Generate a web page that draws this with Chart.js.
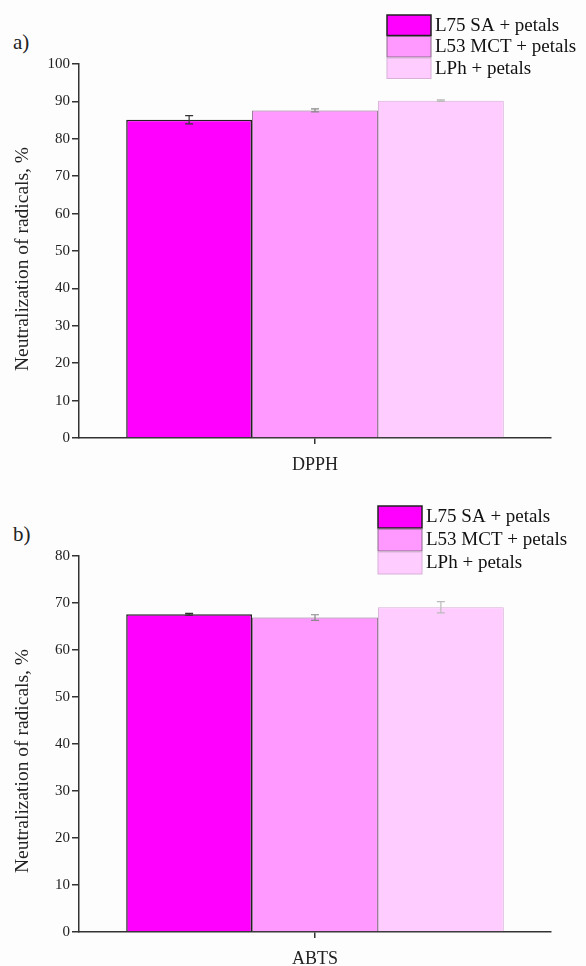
<!DOCTYPE html>
<html>
<head>
<meta charset="utf-8">
<script src="https://cdn.jsdelivr.net/npm/chart.js@4"></script>
<style>
  body { margin: 0; background: #fdfdfd; }
  #wrap { position: relative; width: 586px; height: 966px; }
  canvas { position: absolute; left: 0; }
  .panel { position: absolute; left: 13px; font: 21px "Liberation Serif", serif; color: #222; }
</style>
</head>
<body>
<div id="wrap">
  <div class="panel" style="top:30px">a)</div>
  <canvas id="chartA" width="586" height="490" style="top:0"></canvas>
  <div class="panel" style="top:522px">b)</div>
  <canvas id="chartB" width="586" height="476" style="top:490px"></canvas>
</div>
<script>
// series / samples
const samples = ['L75 SA + petals', 'L53 MCT + petals', 'LPh + petals'];
const fills = ['#ff00ff', '#ff99ff', '#ffccff'];
const edges = ['#222222', '#8a6a8a', '#d8b0d8'];
const errColors = ['#333333', '#888888', '#bbbbbb'];
const yTitle = 'Neutralization of radicals, %';

// a) DPPH
const dpphLabels = ['DPPH'];
const dpphValues = [85.1, 87.6, 90.2];
const dpphErr = [1.1, 0.4, 0.2];

// b) ABTS
const abtsLabels = ['ABTS'];
const abtsValues = [67.6, 66.9, 69.1];
const abtsErr = [0.2, 0.6, 1.2];

const serif = '"Liberation Serif", "Times New Roman", serif';

// draws error bars from data through the y scale
const errorBars = {
    id: 'errorBars',
    afterDatasetsDraw(chart) {
        const errs = chart.options.plugins.errorBars.errs;
        const ctx = chart.ctx;
        const y = chart.scales.y;
        chart.data.datasets.forEach((ds, i) => {
            const meta = chart.getDatasetMeta(i);
            meta.data.forEach((bar, j) => {
                const v = ds.data[j], e = errs[i];
                const top = y.getPixelForValue(v + e);
                const bot = y.getPixelForValue(v - e);
                ctx.save();
                ctx.strokeStyle = errColors[i];
                ctx.lineWidth = 1.2;
                ctx.beginPath();
                ctx.moveTo(bar.x, top); ctx.lineTo(bar.x, bot);
                ctx.moveTo(bar.x - 4, top); ctx.lineTo(bar.x + 4, top);
                ctx.moveTo(bar.x - 4, bot); ctx.lineTo(bar.x + 4, bot);
                ctx.stroke();
                ctx.restore();
            });
        });
    }
};

// simple stacked box legend + rotated y title
const boxLegend = {
    id: 'boxLegend',
    afterDraw(chart) {
        const o = chart.options.plugins.boxLegend;
        const ctx = chart.ctx;
        ctx.save();
        ctx.font = '19px ' + serif;
        ctx.textBaseline = 'middle';
        chart.data.datasets.forEach((ds, i) => {
            const yy = o.y + i * o.h;
            ctx.fillStyle = ds.backgroundColor;
            ctx.fillRect(o.x, yy, o.w, o.h - 1);
            ctx.strokeStyle = ds.borderColor;
            ctx.lineWidth = i === 0 ? 1.5 : 1;
            ctx.strokeRect(o.x, yy, o.w, o.h - 1);
            ctx.fillStyle = '#111';
            ctx.fillText(ds.label, o.x + o.w + 4, yy + o.h / 2);
        });
        // y axis title
        const area = chart.chartArea;
        ctx.translate(23, (area.top + area.bottom) / 2 + o.titleShift);
        ctx.rotate(-Math.PI / 2);
        ctx.font = '19.5px ' + serif;
        ctx.textAlign = 'center';
        ctx.textBaseline = 'middle';
        ctx.fillStyle = '#222';
        ctx.fillText(yTitle, 0, 0);
        ctx.restore();
    }
};

function makeChart(id, labels, values, errs, yMax, cfg) {
    const datasets = samples.map((s, i) => ({
        label: s,
        data: [values[i]],
        backgroundColor: fills[i],
        borderColor: edges[i],
        borderWidth: i === 0 ? 1.5 : 1
    }));
    return new Chart(document.getElementById(id), {
        type: 'bar',
        data: { labels: labels, datasets: datasets },
        options: {
            responsive: false,
            animation: false,
            layout: { padding: { top: cfg.top, right: 35, left: 0, bottom: 0 } },
            datasets: { bar: { barPercentage: 1, categoryPercentage: 0.8 } },
            plugins: {
                legend: { display: false },
                tooltip: { enabled: false },
                errorBars: { errs: errs },
                boxLegend: cfg.legend
            },
            scales: {
                x: {
                    afterFit: (s) => { s.height = cfg.xh; },
                    grid: { offset: false, drawOnChartArea: false, tickLength: 6, color: '#333', lineWidth: 1.5 },
                    border: { color: '#333', width: 1.5 },
                    ticks: { color: '#222', padding: 10, font: { family: serif, size: 18 } }
                },
                y: {
                    min: 0, max: yMax,
                    afterFit: (s) => { s.width = 79; },
                    grid: { drawOnChartArea: false, tickLength: 7, color: '#333', lineWidth: 1.5 },
                    border: { color: '#333', width: 1.5 },
                    ticks: { stepSize: 10, color: '#222', padding: 2, font: { family: serif, size: 15 } }
                }
            }
        },
        plugins: [errorBars, boxLegend]
    });
}

makeChart('chartA', dpphLabels, dpphValues, dpphErr, 100,
    { top: 64, xh: 52, legend: { x: 387, y: 15, w: 44, h: 21.5, titleShift: 8 } });
makeChart('chartB', abtsLabels, abtsValues, abtsErr, 80,
    { top: 66, xh: 34, legend: { x: 378, y: 16, w: 44, h: 23, titleShift: 17 } });
</script>
</body>
</html>
